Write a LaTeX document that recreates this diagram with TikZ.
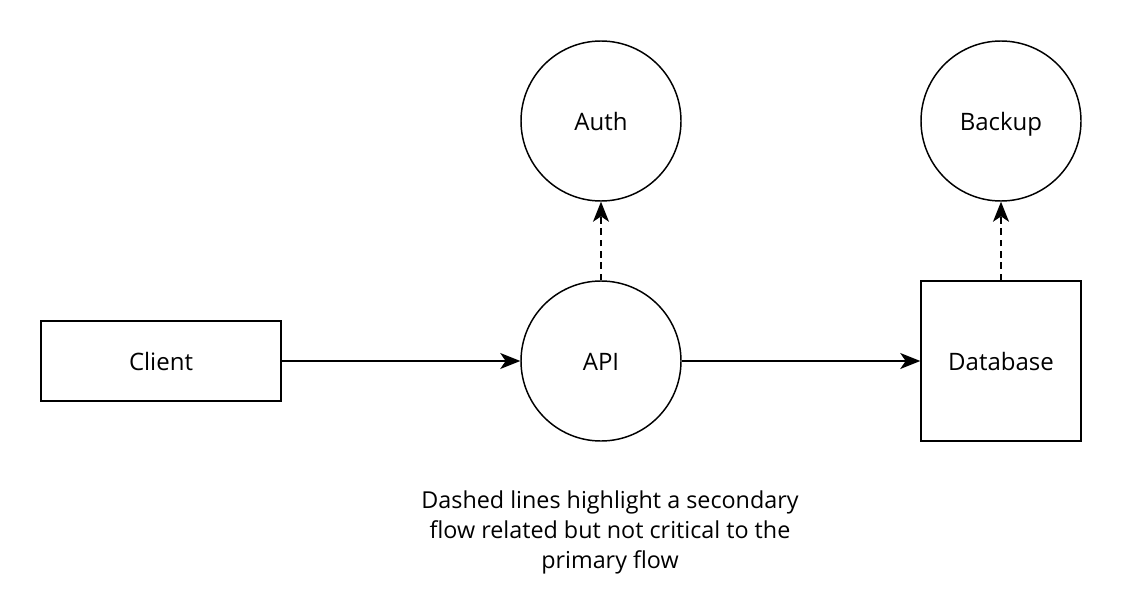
\documentclass[tikz,border=0pt]{standalone}
\usepackage{fontspec}
\setmainfont{Open Sans}
\usetikzlibrary{arrows.meta}
\usetikzlibrary{shapes}

\tikzset{
  flowbox/.style={draw, line width=1.1pt, rectangle, inner sep=0pt, text height=13.5pt, text depth=0pt, font=\fontsize{18}{21}\selectfont},
  flowcircle/.style={flowbox, circle, minimum size=120pt},
  mainflow/.style={line width=1.1pt, -{Stealth[length=15pt, width=12pt, inset=4pt]}},
  sideflow/.style={mainflow, dash pattern={on 5pt off 3.5pt}},
}

\begin{document}
\begin{tikzpicture}[x=0.75pt,y=0.75pt,yscale=-1,xscale=1]
%set diagram left start at 0, and has height of 614
\path[use as bounding box] (0,0) rectangle (1122,614);

%Shape: Rectangle
\node [flowbox, minimum width=180pt, minimum height=60pt] (client) at (161,361) {Client};
%Shape: Circle
\node [flowcircle] (api) at (601,361) {API};
%Shape: Circle
\node [flowcircle] (auth) at (601,121) {Auth};
%Shape: Square
\node [flowbox, minimum width=120pt, minimum height=120pt] (database) at (1001,361) {Database};
%Shape: Circle
\node [flowcircle] (backup) at (1001,121) {Backup};

%Straight Lines
\draw [mainflow] (client) -- (api);
\draw [mainflow] (api) -- (database);
%Dashed Lines
\draw [sideflow] (api) -- (auth);
\draw [sideflow] (database) -- (backup);

% Text Node
\node [align=center, font=\fontsize{17.5}{22.5}\selectfont] (note) at (610,532) {Dashed lines highlight a secondary\\flow related but not critical to the\\primary flow};

\end{tikzpicture}
\end{document}
